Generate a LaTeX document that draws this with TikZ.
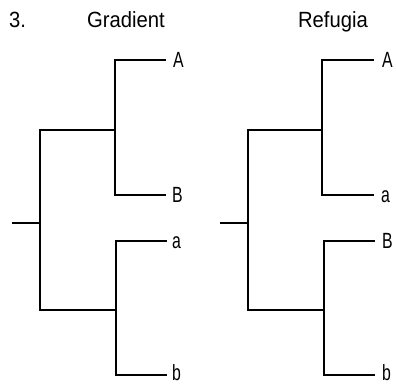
\documentclass[tikz,border=0pt]{standalone}
\usepackage{fontspec}
\setmainfont{Liberation Sans}
\newcommand{\leaftext}[1]{\scalebox{0.72}[1]{#1}}
\newcommand{\titletext}[1]{\scalebox{0.92}[1]{#1}}
\begin{document}
\begin{tikzpicture}[x=1pt,y=-1pt,
  branch/.style={line width=1.8pt,line cap=rect},
  leaf/.style={anchor=base west,inner sep=0pt,outer sep=0pt,font=\fontsize{22}{26}\selectfont},
  title/.style={anchor=base,inner sep=0pt,font=\fontsize{22}{26}\selectfont}]
\useasboundingbox (0,0) rectangle (396,383);
% titles
\node[title,anchor=base west] (num) at (9,27) {\titletext{3.}};
\node[title] (tG) at (126,27) {\titletext{Gradient}};
\node[title] (tR) at (333,27) {\titletext{Refugia}};
% left tree
\coordinate (gA) at (165,60);
\coordinate (gB) at (165,195);
\coordinate (ga) at (166,241);
\coordinate (gb) at (166,375);
\coordinate (g1) at (115,130);
\coordinate (g2) at (116,310);
\coordinate (g0) at (40,223);
\coordinate (gr) at (13,223);
\node[leaf] (lA) at (173,67) {\leaftext{A}};
\node[leaf] (lB) at (172,202) {\leaftext{B}};
\node[leaf] (la) at (172,248) {\leaftext{a}};
\node[leaf] (lb) at (172,380) {\leaftext{b}};
\draw[branch] (gA) -| (g1) |- (gB);
\draw[branch] (ga) -| (g2) |- (gb);
\draw[branch] (g1) -| (g0) |- (g2);
\draw[branch] (g0) -- (gr);
% right tree
\coordinate (rA) at (373,60);
\coordinate (ra) at (373,195);
\coordinate (rB) at (374,241);
\coordinate (rb) at (374,375);
\coordinate (r1) at (322,130);
\coordinate (r2) at (324,310);
\coordinate (r0) at (248,223);
\coordinate (rr) at (221,223);
\node[leaf] (mA) at (382,67) {\leaftext{A}};
\node[leaf] (ma) at (381,202) {\leaftext{a}};
\node[leaf] (mB) at (382,248) {\leaftext{B}};
\node[leaf] (mb) at (382,380) {\leaftext{b}};
\draw[branch] (rA) -| (r1) |- (ra);
\draw[branch] (rB) -| (r2) |- (rb);
\draw[branch] (r1) -| (r0) |- (r2);
\draw[branch] (r0) -- (rr);
\end{tikzpicture}
\end{document}
